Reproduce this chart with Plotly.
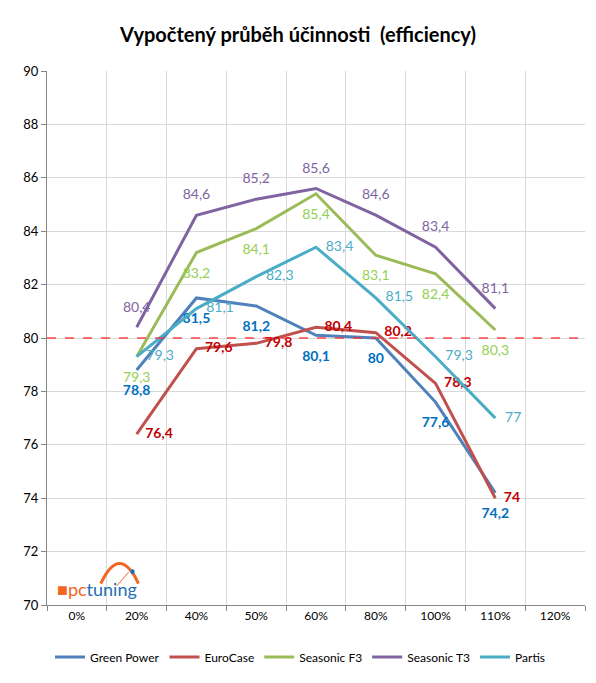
import plotly.graph_objects as go

categories = ["0%", "20%", "40%", "50%", "60%", "80%", "100%", "110%", "120%"]
loads = ["20%", "40%", "50%", "60%", "80%", "100%", "110%"]

green_power = [78.8, 81.5, 81.2, 80.1, 80.0, 77.6, 74.2]
eurocase = [76.4, 79.6, 79.8, 80.4, 80.2, 78.3, 74.0]
seasonic_f3 = [79.3, 83.2, 84.1, 85.4, 83.1, 82.4, 80.3]
seasonic_t3 = [80.4, 84.6, 85.2, 85.6, 84.6, 83.4, 81.1]
partis = [79.3, 81.1, 82.3, 83.4, 81.5, 79.3, 77.0]

reference_level = 80
y_ticks = list(range(70, 91, 2))

series = [
    ("Green Power", green_power, "#4F81BD", "#0070C0", "bottom center", True, 22),
    ("EuroCase", eurocase, "#C0504D", "#C00000", "middle right", True, 12),
    ("Seasonic F3", seasonic_f3, "#9BBB59", "#92D050", "bottom center", False, 22),
    ("Seasonic T3", seasonic_t3, "#8064A2", "#8064A2", "top center", False, 18),
    ("Partis", partis, "#4BACC6", "#4BACC6", "middle right", False, 14),
]

FONT = "Lato, Calibri, Carlito, sans-serif"


def fmt(v):
    return f"{v:g}".replace(".", ",")


fig = go.Figure()
for name, vals, color, tcolor, pos, bold, msize in series:
    txt = [("<b>%s</b>" % fmt(v)) if bold else fmt(v) for v in vals]
    fig.add_trace(go.Scatter(
        x=loads, y=vals, name=name, mode="lines+markers+text",
        line=dict(color=color, width=3),
        marker=dict(size=msize, color="rgba(0,0,0,0)"),
        text=txt, textposition=pos,
        textfont=dict(family=FONT, size=14, color=tcolor),
        cliponaxis=False,
    ))

# reference dashed line at 80 across the whole plot
fig.add_shape(type="line", xref="paper", yref="y", x0=0, x1=1,
              y0=reference_level, y1=reference_level,
              line=dict(color="rgba(255,40,40,0.85)", width=1.3, dash="dash"))

fig.update_layout(
    width=580, height=667,
    margin=dict(l=39, r=3, t=63, b=70),
    paper_bgcolor="white", plot_bgcolor="white",
    title=dict(text="<b>Vypočtený průběh účinnosti  (efficiency)</b>",
               x=(298 - 8) / 580, xanchor="center", y=1 - 27 / 667, yanchor="middle",
               font=dict(family=FONT, size=20, color="black")),
    font=dict(family=FONT, size=12, color="black"),
    showlegend=True,
    legend=dict(orientation="h", x=(300 - 8 - 39) / 538, xanchor="center",
                y=-0.0974, yanchor="middle",
                font=dict(family=FONT, size=12, color="black"),
                itemwidth=30, tracegroupgap=0),
    xaxis=dict(type="category", categoryorder="array", categoryarray=categories,
               range=[-0.5, len(categories) - 0.5],
               tickson="boundaries", ticks="outside", ticklen=5, tickcolor="#868686",
               showgrid=True, gridcolor="#D9D9D9", gridwidth=1,
               showline=True, linecolor="#868686", linewidth=1,
               tickfont=dict(family=FONT, size=12, color="black"),
               zeroline=False),
    yaxis=dict(range=[70, 90], tickvals=y_ticks, ticktext=[str(t) for t in y_ticks],
               ticks="outside", ticklen=5, tickcolor="#868686",
               showgrid=True, gridcolor="#D9D9D9", gridwidth=1,
               showline=True, linecolor="#868686", linewidth=1,
               tickfont=dict(family=FONT, size=13, color="black"),
               zeroline=False),
)

# pctuning logo
fig.add_annotation(
    xref="paper", yref="paper", x=0.0149, y=0.03, xanchor="left", yanchor="middle",
    text="<span style='color:#F26522'>■</span><span style='color:#F26522'>pc</span><span style='color:#1F6FB5'>tuning</span>",
    showarrow=False, font=dict(family=FONT, size=18),
)
fig.add_shape(type="path", xref="paper", yref="paper",
              path="M 0.1,0.04 Q 0.135,0.115 0.17,0.04",
              line=dict(color="#F26522", width=3))
fig.add_shape(type="line", xref="paper", yref="paper",
              x0=0.13, y0=0.036, x1=0.152, y1=0.062,
              line=dict(color="#F26522", width=1))
fig.add_shape(type="circle", xref="paper", yref="paper",
              x0=0.155, y0=0.058, x1=0.163, y1=0.067,
              fillcolor="#1F6FB5", line=dict(width=0))

fig.write_html("out.html")
